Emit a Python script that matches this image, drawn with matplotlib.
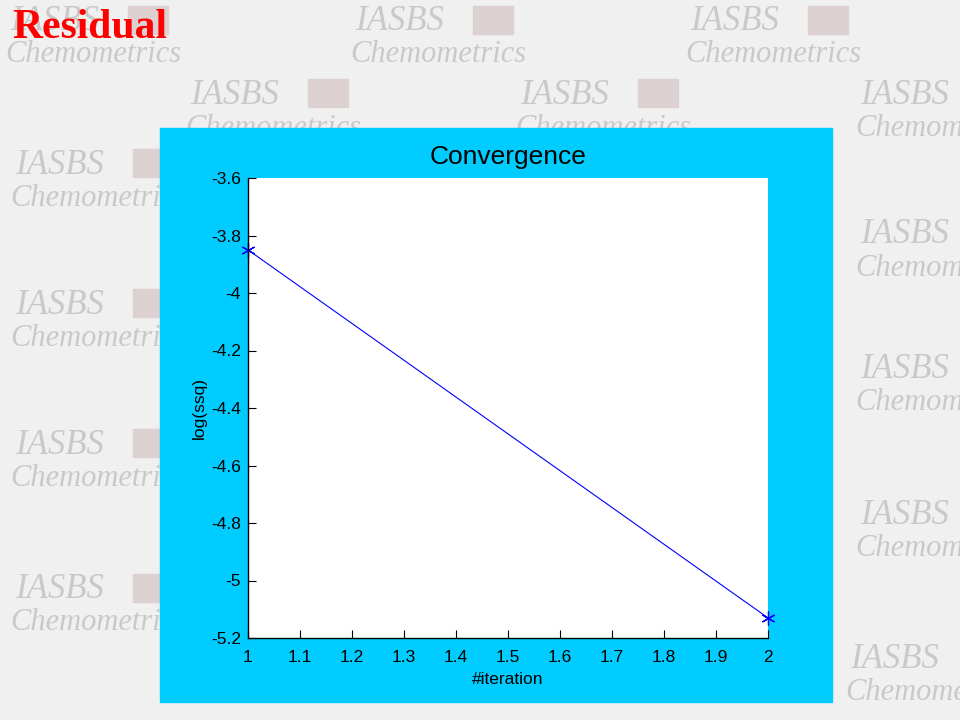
import matplotlib
matplotlib.use("Agg")
import matplotlib.pyplot as plt
from matplotlib.patches import Rectangle

iterations = [1, 2]
log_ssq = [-3.85, -5.13]
xticks = [1, 1.1, 1.2, 1.3, 1.4, 1.5, 1.6, 1.7, 1.8, 1.9, 2]
yticks = [-3.6, -3.8, -4, -4.2, -4.4, -4.6, -4.8, -5, -5.2]

W, H = 960, 720
fig = plt.figure(figsize=(9.6, 7.2), dpi=100)
fig.patch.set_facecolor("#f0f0f0")

# watermark
marks = [(10, 22), (355, 22), (690, 22), (190, 95), (520, 95), (860, 95),
         (15, 165), (860, 235), (15, 305), (860, 370), (15, 445),
         (860, 515), (15, 590), (850, 660)]
for (x, y) in marks:
    fig.text(x / W, 1 - y / H, "IASBS", fontsize=25, family="Liberation Serif",
             style="italic", color="#c9c9c9", va="center", ha="left", zorder=0)
    fig.add_artist(Rectangle(((x + 118) / W, 1 - (y + 12) / H), 40 / W, 28 / H,
                             transform=fig.transFigure, color="#dcd0d0", zorder=0))
    fig.text(x / W - 0.005, 1 - (y + 33) / H, "Chemometrics", fontsize=22,
             family="Liberation Serif", style="italic", color="#c9c9c9",
             va="center", ha="left", zorder=0)

fig.text(12 / W, 1 - 28 / H, "Residual", fontsize=30, family="Liberation Serif",
         weight="bold", color="#ff0000", va="center", ha="left", zorder=5)

fig.add_artist(Rectangle((160 / W, 1 - 702 / H), 672 / W, 574 / H,
                         transform=fig.transFigure, color="#00ccff", zorder=1))

ax = fig.add_axes([248 / W, 1 - 638 / H, 520 / W, 460 / H], zorder=2)
ax.set_facecolor("white")
ax.plot(iterations, log_ssq, color="blue", lw=0.8, marker=(6, 2, 0), ms=10,
        markeredgewidth=0.9, clip_on=False)
ax.set_xlim(1, 2)
ax.set_ylim(-5.2, -3.6)
ax.set_xticks(xticks)
ax.set_xticklabels([f"{v:g}" for v in xticks])
ax.set_yticks(yticks)
ax.set_yticklabels([f"{v:g}" for v in yticks])
for s in ["top", "right"]:
    ax.spines[s].set_visible(False)
for s in ["left", "bottom"]:
    ax.spines[s].set_linewidth(1)
ax.tick_params(direction="in", length=6, labelsize=12.5, pad=5)
ax.tick_params(axis="x", pad=9)
for lbl in ax.get_xticklabels() + ax.get_yticklabels():
    lbl.set_family("Liberation Sans")
ax.set_title("Convergence", fontsize=19, family="Liberation Sans", pad=10)
ax.set_xlabel("#iteration", fontsize=12.5, family="Liberation Sans", labelpad=5)
ax.set_ylabel("log(ssq)", fontsize=12.5, family="Liberation Sans", labelpad=3)

fig.savefig("out.png", dpi=100, facecolor=fig.get_facecolor())
